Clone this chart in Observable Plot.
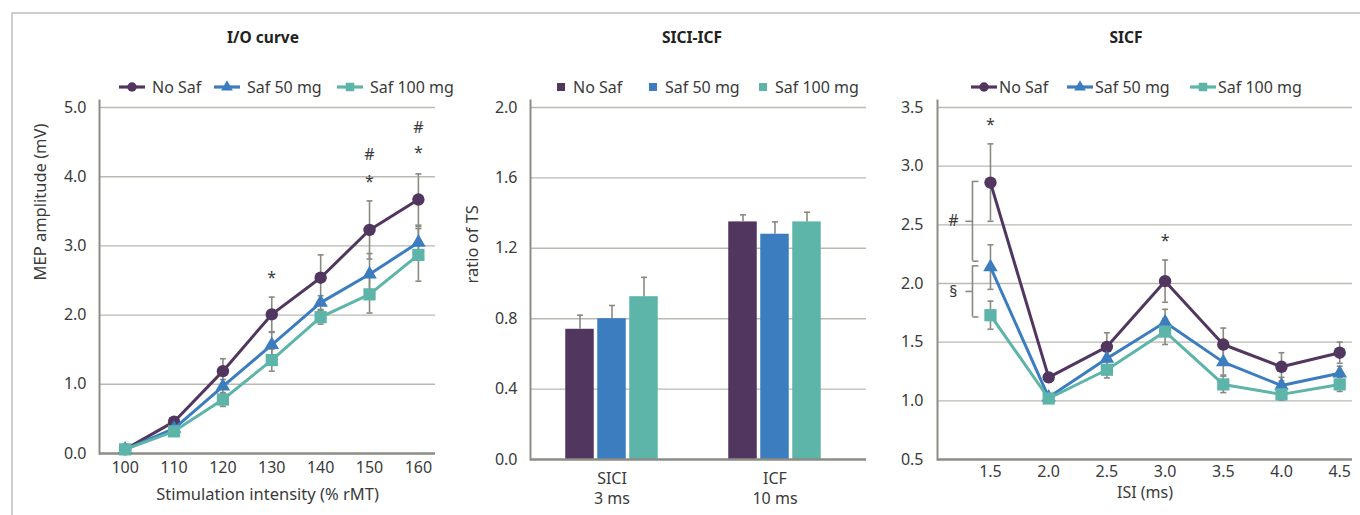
<!DOCTYPE html>
<html><head><meta charset="utf-8">
<script src="https://cdn.jsdelivr.net/npm/d3@7"></script>
<script src="https://cdn.jsdelivr.net/npm/@observablehq/plot@0.6"></script>
<style>
body{margin:0;background:#fff;font-family:"Noto Sans",sans-serif;color:#3a3a3a;}
#root{position:relative;width:1360px;height:515px;overflow:hidden;background:#fff;}
.fr-top{position:absolute;left:11px;top:12px;width:1349px;height:2px;background:#cdcdcd}
.fr-left{position:absolute;left:11px;top:12px;width:2px;height:503px;background:#cdcdcd}
.panel{position:absolute;top:0}
.title{position:absolute;top:26px;font-weight:bold;font-size:15.5px;color:#222;transform:translateX(-50%);white-space:nowrap}
.lg{position:absolute;top:77px;height:20px;display:flex;align-items:center;font-size:16px;white-space:nowrap;color:#3a3a3a}
.lg svg{display:block}
</style></head>
<body><div id="root">
<div class="fr-top"></div><div class="fr-left"></div>
</div>
<script>
// ---------- shared ----------
const series = ["No Saf", "Saf 50 mg", "Saf 100 mg"];
const colors = ["#51375f", "#3c7dc0", "#5db4a8"];
const symbols = ["circle", "triangle", "square"];
const symbolR = [6.2, 5.4, 6.9];

// ---------- I/O curve ----------
const ioIntensity = [100, 110, 120, 130, 140, 150, 160];
const ioNoSaf     = [0.06, 0.46, 1.19, 2.01, 2.54, 3.23, 3.67];
const ioSaf50     = [0.06, 0.36, 0.97, 1.57, 2.18, 2.59, 3.05];
const ioSaf100    = [0.06, 0.32, 0.78, 1.35, 1.97, 2.30, 2.87];
const ioNoSafSE   = [0.02, 0.05, 0.18, 0.25, 0.33, 0.42, 0.37];
const ioSaf50SE   = [0.02, 0.04, 0.10, 0.18, 0.10, 0.30, 0.23];
const ioSaf100SE  = [0.02, 0.03, 0.10, 0.16, 0.10, 0.27, 0.38];
const ioYTicks = [0, 1, 2, 3, 4, 5];
const ioMarks = [
  {x: 130, y: 2.54, t: "*"},
  {x: 150, y: 3.92, t: "*"}, {x: 150, y: 4.32, t: "#"},
  {x: 160, y: 4.35, t: "*"}, {x: 160, y: 4.70, t: "#"}
];

// ---------- SICI-ICF ----------
const groups = ["SICI", "ICF"];
const groupSub = ["3 ms", "10 ms"];
const barNoSaf   = [0.74, 1.35];
const barSaf50   = [0.80, 1.28];
const barSaf100  = [0.925, 1.35];
const barNoSafSE  = [0.08, 0.04];
const barSaf50SE  = [0.075, 0.07];
const barSaf100SE = [0.11, 0.055];
const barYTicks = [0, 0.4, 0.8, 1.2, 1.6, 2.0];

// ---------- SICF ----------
const isi = [1.5, 2.0, 2.5, 3.0, 3.5, 4.0, 4.5];
const sicfNoSaf   = [2.86, 1.20, 1.46, 2.02, 1.48, 1.29, 1.41];
const sicfSaf50   = [2.14, 1.03, 1.36, 1.67, 1.33, 1.13, 1.235];
const sicfSaf100  = [1.73, 1.02, 1.265, 1.59, 1.14, 1.055, 1.14];
const sicfNoSafSE  = [0.33, 0.04, 0.12, 0.18, 0.14, 0.12, 0.09];
const sicfSaf50SE  = [0.19, 0.03, 0.07, 0.11, 0.11, 0.07, 0.06];
const sicfSaf100SE = [0.12, 0.03, 0.07, 0.11, 0.07, 0.05, 0.06];
const sicfYTicks = [0.5, 1.0, 1.5, 2.0, 2.5, 3.0, 3.5];
const sicfStars = [{x: 1.5, y: 3.35, t: "*"}, {x: 3.0, y: 2.36, t: "*"}];
const sicfBrackets = [
  {x: 1.5, top: 2.87, bottom: 2.19, t: "#"},
  {x: 1.5, top: 2.15, bottom: 1.715, t: "§"}
];

// ---------- styles ----------
const axisColor = "#8d8d85";
const gridColor = "#b9b9b1";
const errColor = "#8a8a80";
const textColor = "#3a3a3a";
const fmt1 = d3.format(".1f");

function capSymbol(kind) {
  return {draw(c, size) {
    const r = Math.sqrt(size / Math.PI);
    if (kind === "both") { c.moveTo(-r, 0); c.lineTo(r, 0); }
    else if (kind === "right") { c.moveTo(0, 0); c.lineTo(r, 0); }
    else { c.moveTo(-r, 0); c.lineTo(0, 0); }
  }};
}
const capBoth = capSymbol("both"), capRight = capSymbol("right"), capLeft = capSymbol("left");

function longTable(xs, vals, ses) {
  return series.map((s, i) => xs.map((x, j) => ({series: s, x, y: vals[i][j], se: ses[i][j]})));
}

function lineSeriesMarks(tables) {
  const m = [];
  tables.forEach(t => {
    m.push(Plot.ruleX(t, {x: "x", y1: d => d.y - d.se, y2: d => d.y + d.se, stroke: errColor, strokeWidth: 1.6}));
    m.push(Plot.dot(t, {x: "x", y: d => d.y + d.se, symbol: capBoth, r: 3, stroke: errColor, strokeWidth: 1.6, fill: "none"}));
    m.push(Plot.dot(t, {x: "x", y: d => d.y - d.se, symbol: capBoth, r: 3, stroke: errColor, strokeWidth: 1.6, fill: "none"}));
  });
  tables.forEach((t, i) => {
    m.push(Plot.line(t, {x: "x", y: "y", stroke: colors[i], strokeWidth: 3}));
    m.push(Plot.dot(t, {x: "x", y: "y", symbol: symbols[i], r: symbolR[i], fill: colors[i], stroke: "none"}));
  });
  return m;
}

const baseStyle = {fontFamily: "'Noto Sans', sans-serif", fontSize: "16px", color: textColor, background: "transparent", overflow: "visible"};
const root = document.getElementById("root");
function place(el, left) { el.classList.add("panel"); el.style.left = left + "px"; root.appendChild(el); }
const leftAxisLine = () => Plot.frame({anchor: "left", stroke: axisColor, strokeWidth: 2, insetTop: -7});

// ---------- Panel 1 ----------
const ioXDomain = [94.75, 163.5];
const ioTables = longTable(ioIntensity, [ioNoSaf, ioSaf50, ioSaf100], [ioNoSafSE, ioSaf50SE, ioSaf100SE]);
const p1 = Plot.plot({
  width: 460, height: 515,
  marginLeft: 99, marginRight: 25, marginTop: 107, marginBottom: 62,
  x: {domain: ioXDomain}, y: {domain: [0, 5]},
  style: baseStyle,
  marks: [
    Plot.ruleY(ioYTicks.slice(1), {stroke: gridColor, strokeWidth: 1.4}),
    Plot.ruleY([0], {stroke: axisColor, strokeWidth: 2.4}),
    leftAxisLine(),
    Plot.axisY({ticks: ioYTicks, tickFormat: fmt1, tickSize: 0, tickPadding: 13, label: null}),
    Plot.axisX({ticks: ioIntensity, tickFormat: d => d, tickSize: 0, tickPadding: 8, label: null}),
    ...lineSeriesMarks(ioTables),
    Plot.text(ioMarks, {x: "x", y: "y", text: "t", fontSize: 16, fill: textColor}),
    Plot.text(["MEP amplitude (mV)"], {text: d => d, frameAnchor: "left", dx: -59, rotate: -90, fontSize: 16.5, fill: textColor}),
    Plot.text(["Stimulation intensity (% rMT)"], {text: d => d, frameAnchor: "bottom", dy: 46, fontSize: 16.5, fill: textColor})
  ]
});
place(p1, 0);

// ---------- Panel 2 ----------
const barVals = [barNoSaf, barSaf50, barSaf100];
const barSEs = [barNoSafSE, barSaf50SE, barSaf100SE];
const barTables = series.map((s, i) => groups.map((g, j) => ({series: s, g, y: barVals[i][j], se: barSEs[i][j]})));
const barStep = 32, barInset = 67.25;
const barMarks = [];
barTables.forEach((t, i) => {
  const dx = (i - 1) * barStep;
  barMarks.push(Plot.barY(t, {x: "g", y: "y", fill: colors[i], insetLeft: barInset, insetRight: barInset, dx}));
});
barTables.forEach((t, i) => {
  const dx = (i - 1) * barStep;
  barMarks.push(Plot.ruleX(t, {x: "g", y1: "y", y2: d => d.y + d.se, stroke: errColor, strokeWidth: 1.6, dx}));
  barMarks.push(Plot.dot(t, {x: "g", y: d => d.y + d.se, symbol: capBoth, r: 3, stroke: errColor, strokeWidth: 1.6, fill: "none", dx}));
});
const p2 = Plot.plot({
  width: 420, height: 515,
  marginLeft: 70, marginRight: 14, marginTop: 107, marginBottom: 56,
  x: {type: "band", domain: groups, paddingInner: 0, paddingOuter: 0.0275, align: 0},
  y: {domain: [0, 2]},
  style: baseStyle,
  marks: [
    Plot.ruleY(barYTicks.slice(1), {stroke: gridColor, strokeWidth: 1.4}),
    ...barMarks,
    Plot.ruleY([0], {stroke: axisColor, strokeWidth: 2.4}),
    leftAxisLine(),
    Plot.axisY({ticks: barYTicks, tickFormat: fmt1, tickSize: 0, tickPadding: 13, label: null}),
    Plot.axisX({tickFormat: g => g + "\n" + groupSub[groups.indexOf(g)], tickSize: 0, tickPadding: 10, lineHeight: 1.25, label: null}),
    Plot.text(["ratio of TS"], {text: d => d, frameAnchor: "left", dx: -58, rotate: -90, fontSize: 16.5, fill: textColor})
  ]
});
place(p2, 460);

// ---------- Panel 3 ----------
const sicfXDomain = [1.045, 4.61];
const sicfTables = longTable(isi, [sicfNoSaf, sicfSaf50, sicfSaf100], [sicfNoSafSE, sicfSaf50SE, sicfSaf100SE]);
const bStyle = {stroke: errColor, strokeWidth: 1.6};
const p3 = Plot.plot({
  width: 480, height: 515,
  marginLeft: 57, marginRight: 8, marginTop: 107, marginBottom: 56,
  x: {domain: sicfXDomain}, y: {domain: [0.5, 3.5]},
  style: baseStyle,
  marks: [
    Plot.ruleY(sicfYTicks.slice(1), {stroke: gridColor, strokeWidth: 1.4}),
    Plot.ruleY([0.5], {stroke: axisColor, strokeWidth: 2.4}),
    leftAxisLine(),
    Plot.axisY({ticks: sicfYTicks, tickFormat: fmt1, tickSize: 0, tickPadding: 14, label: null}),
    Plot.axisX({ticks: isi, tickFormat: fmt1, tickSize: 0, tickPadding: 6, label: null}),
    ...lineSeriesMarks(sicfTables),
    Plot.text(sicfStars, {x: "x", y: "y", text: "t", fontSize: 16, fill: textColor}),
    Plot.ruleX(sicfBrackets, {x: "x", y1: "top", y2: "bottom", dx: -18, ...bStyle}),
    Plot.dot(sicfBrackets, {x: "x", y: "top", symbol: capRight, r: 6, dx: -18, fill: "none", ...bStyle}),
    Plot.dot(sicfBrackets, {x: "x", y: "bottom", symbol: capRight, r: 6, dx: -18, fill: "none", ...bStyle}),
    Plot.dot(sicfBrackets, {x: "x", y: d => (d.top + d.bottom) / 2, symbol: capLeft, r: 7, dx: -18, fill: "none", ...bStyle}),
    Plot.text(sicfBrackets, {x: "x", y: d => (d.top + d.bottom) / 2, text: "t", dx: -37, fontSize: 16, fill: textColor}),
    Plot.text(["ISI (ms)"], {text: d => d, frameAnchor: "bottom", dy: 38, fontSize: 16, fill: textColor})
  ]
});
place(p3, 880);

// ---------- titles ----------
[["I/O curve", 263], ["SICI-ICF", 692], ["SICF", 1126]].forEach(([t, x]) => {
  const d = document.createElement("div"); d.className = "title"; d.textContent = t; d.style.left = x + "px"; root.appendChild(d);
});

// ---------- legends ----------
function lineSwatch(i, w) {
  const ns = "http://www.w3.org/2000/svg";
  const s = document.createElementNS(ns, "svg");
  s.setAttribute("width", w); s.setAttribute("height", 16);
  const l = document.createElementNS(ns, "line");
  l.setAttribute("x1", 0); l.setAttribute("x2", w); l.setAttribute("y1", 8); l.setAttribute("y2", 8);
  l.setAttribute("stroke", colors[i]); l.setAttribute("stroke-width", 3.2);
  s.appendChild(l);
  const p = document.createElementNS(ns, "path");
  const sym = [d3.symbolCircle, d3.symbolTriangle, d3.symbolSquare][i];
  const size = [70, 60, 72][i];
  p.setAttribute("d", d3.symbol(sym, size)());
  p.setAttribute("transform", `translate(${w / 2},8)`);
  p.setAttribute("fill", colors[i]);
  s.appendChild(p);
  return s;
}
function squareSwatch(i) {
  const ns = "http://www.w3.org/2000/svg";
  const s = document.createElementNS(ns, "svg");
  s.setAttribute("width", 8); s.setAttribute("height", 8);
  const r = document.createElementNS(ns, "rect");
  r.setAttribute("width", 8); r.setAttribute("height", 8); r.setAttribute("fill", colors[i]);
  s.appendChild(r);
  return s;
}
function addLegend(lefts, kind, gap) {
  series.forEach((s, i) => {
    const d = document.createElement("div"); d.className = "lg"; d.style.left = lefts[i] + "px";
    const sw = kind === "line" ? lineSwatch(i, 26) : squareSwatch(i);
    sw.style.marginRight = gap + "px";
    d.appendChild(sw);
    const sp = document.createElement("span"); sp.textContent = s; d.appendChild(sp);
    root.appendChild(d);
  });
}
addLegend([119, 214, 337], "line", 7);
addLegend([557, 649, 759], "square", 8);
addLegend([971, 1067, 1190], "line", 2);
</script>
</body></html>
